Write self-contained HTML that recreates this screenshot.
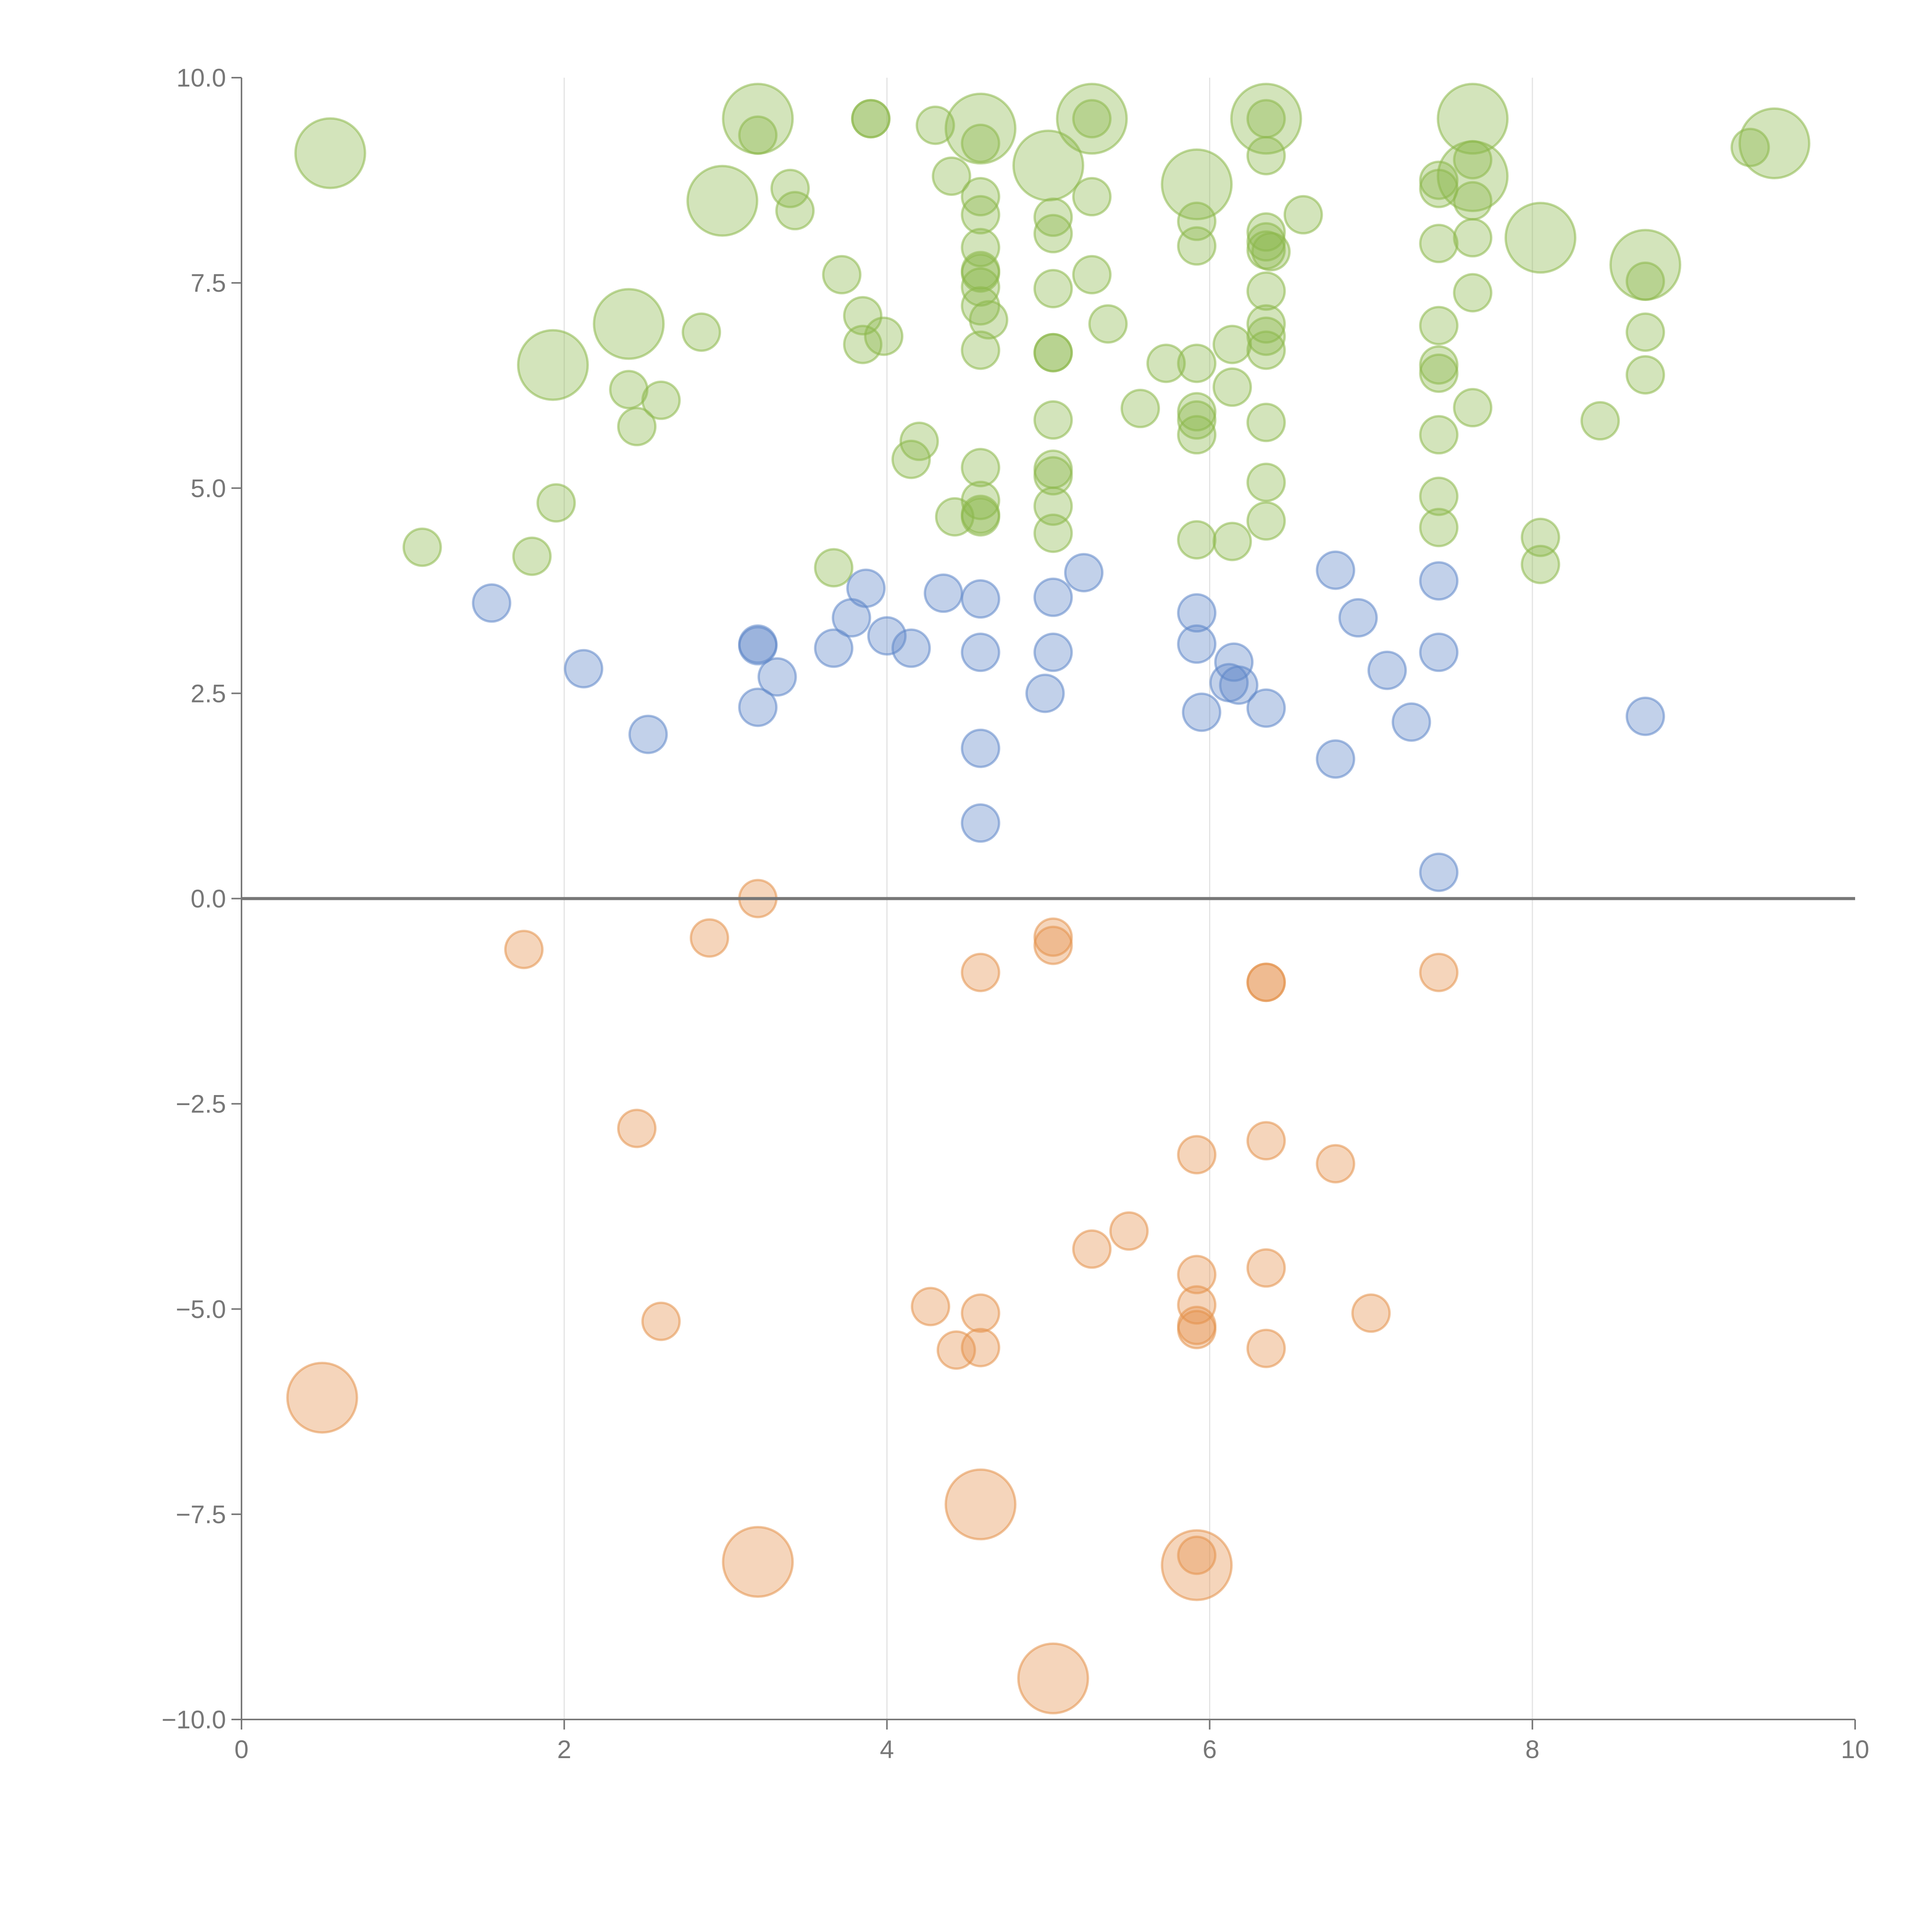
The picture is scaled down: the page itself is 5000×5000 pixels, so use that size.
<!DOCTYPE html>
<html><head><meta charset="utf-8"><style>
html,body{margin:0;padding:0;background:#fff;}
svg{display:block;font-family:"Liberation Sans",sans-serif;}
</style></head><body>
<svg id="chart" width="5000" height="5000" viewBox="0 0 5000 5000" xmlns="http://www.w3.org/2000/svg">
<g id="grid"></g>
<g id="marks"></g>
<g id="axes"></g>
</svg>
<script>
const xTicks=[0,2,4,6,8,10];
const yTicks=[-10,-7.5,-5,-2.5,0,2.5,5,7.5,10];
const yTickLabels=["\u221210.0","\u22127.5","\u22125.0","\u22122.5","0.0","2.5","5.0","7.5","10.0"];
const greenX=[0.55,1.12,1.8,1.95,1.93,2.4,2.4,2.45,2.6,2.85,2.98,3.2,3.2,3.4,3.43,3.72,3.67,3.85,3.85,3.9,3.9,3.98,4.15,4.2,4.3,4.4,4.42,4.58,4.58,4.58,4.58,4.58,4.58,4.58,4.58,4.58,4.63,4.58,4.58,4.58,4.58,4.58,5.0,5.03,5.03,5.03,5.03,5.03,5.03,5.03,5.03,5.03,5.03,5.27,5.27,5.27,5.27,5.37,5.57,5.73,5.92,5.92,5.92,5.92,5.92,5.92,5.92,5.92,6.14,6.14,6.14,6.35,6.35,6.35,6.35,6.35,6.35,6.38,6.35,6.35,6.35,6.35,6.35,6.35,6.35,6.58,7.42,7.42,7.42,7.42,7.42,7.42,7.42,7.42,7.42,7.63,7.63,7.63,7.63,7.63,7.63,7.63,8.05,8.05,8.05,8.42,8.7,8.7,8.7,8.7,9.35,9.5];
const greenY=[9.08,4.28,4.17,4.82,6.5,7.0,6.2,5.75,6.07,6.9,8.5,9.5,9.3,8.65,8.38,7.6,4.03,7.1,6.75,9.5,9.5,6.85,5.35,5.57,9.42,8.8,4.65,9.38,9.2,8.55,8.33,7.93,7.65,7.62,7.45,7.22,7.05,6.68,5.25,4.85,4.68,4.65,8.93,8.3,8.1,7.43,6.65,6.65,5.83,5.23,5.15,4.78,4.45,9.5,9.5,8.55,7.6,7.0,5.97,6.52,8.7,8.25,7.95,6.52,5.93,5.83,5.65,4.37,6.75,6.23,4.35,9.5,9.5,9.05,8.12,8.0,7.9,7.88,7.4,7.0,6.85,6.68,5.8,5.07,4.6,8.33,8.75,8.65,7.98,6.98,6.5,6.4,5.65,4.9,4.52,9.5,8.8,9.0,8.5,8.05,7.38,5.98,8.05,4.4,4.07,5.82,7.72,7.52,6.9,6.38,9.15,9.2];
const greenSize=[2,1,1,1,2,2,1,1,1,1,2,2,1,1,1,1,1,1,1,1,1,1,1,1,1,1,1,2,1,1,1,1,1,1,1,1,1,1,1,1,1,1,2,1,1,1,1,1,1,1,1,1,1,2,1,1,1,1,1,1,2,1,1,1,1,1,1,1,1,1,1,2,1,1,1,1,1,1,1,1,1,1,1,1,1,1,1,1,1,1,1,1,1,1,1,2,2,1,1,1,1,1,2,1,1,1,2,1,1,1,1,2];
const blueX=[1.55,2.12,2.52,3.2,3.2,3.2,3.32,3.67,3.78,3.87,4.0,4.15,4.35,4.58,4.58,4.58,4.58,4.98,5.03,5.03,5.22,5.92,5.92,5.95,6.15,6.12,6.18,6.35,6.78,6.78,6.92,7.1,7.25,7.42,7.42,7.42,8.7];
const blueY=[3.6,2.8,2.0,3.1,3.08,2.33,2.7,3.05,3.42,3.78,3.2,3.05,3.72,3.65,3.0,1.83,0.92,2.5,3.67,3.0,3.97,3.48,3.1,2.27,2.88,2.63,2.6,2.32,4.0,1.7,3.42,2.78,2.15,3.87,3.0,0.32,2.22];
const orangeX=[3.2,1.75,2.9,4.58,5.03,5.03,6.35,6.35,7.42,2.45,5.92,6.35,6.78,5.5,5.27,5.92,6.35,4.27,4.58,5.92,5.92,5.92,7.0,2.6,4.43,4.58,6.35,0.5,4.58,3.2,5.92,5.92,5.03];
const orangeY=[0.0,-0.62,-0.48,-0.9,-0.47,-0.57,-1.02,-1.02,-0.9,-2.8,-3.12,-2.95,-3.23,-4.05,-4.27,-4.58,-4.5,-4.97,-5.05,-4.95,-5.2,-5.25,-5.05,-5.15,-5.5,-5.47,-5.48,-6.08,-7.38,-8.08,-8.12,-8.0,-9.5];
const orangeSize=[1,1,1,1,1,1,1,1,1,1,1,1,1,1,1,1,1,1,1,1,1,1,1,1,1,1,1,2,2,2,2,1,2];

const NS="http://www.w3.org/2000/svg";
const L=625,R=4801,T=201,B=4450;
const sx=v=>L+(v-0)/(10-0)*(R-L);
const sy=v=>B-(v+10)/20*(B-T);
const mk=(tag,attrs,parent)=>{const e=document.createElementNS(NS,tag);for(const k in attrs)e.setAttribute(k,attrs[k]);parent.appendChild(e);return e;};
const grid=document.getElementById('grid'),marks=document.getElementById('marks'),axes=document.getElementById('axes');

xTicks.forEach(t=>{if(t>0&&t<10){const g=mk('line',{x1:sx(t),x2:sx(t),y1:T,y2:B,stroke:'#e3e3e3','stroke-width':3},grid);

}});

function drawSeries(xs,ys,sizes,fill,name){
  xs.forEach((x,i)=>{const r=sizes&&sizes[i]===2?90:48;
    const c=mk('circle',{cx:sx(x),cy:sy(ys[i]),r:r,fill:fill,'fill-opacity':0.38,stroke:fill,'stroke-opacity':0.55,'stroke-width':6},marks);
    
    });
}
drawSeries(greenX,greenY,greenSize,'rgb(140,184,75)','green-bubble');
drawSeries(blueX,blueY,null,'rgb(95,135,200)','blue-bubble');
drawSeries(orangeX,orangeY,orangeSize,'rgb(228,145,75)','orange-bubble');

const zl=mk('line',{x1:L,x2:R,y1:sy(0),y2:sy(0),stroke:'#777','stroke-width':8},axes);


const ya=mk('line',{x1:L,x2:L,y1:T,y2:B,stroke:'#777','stroke-width':4},axes);


const xa=mk('line',{x1:L,x2:R,y1:B,y2:B,stroke:'#777','stroke-width':4},axes);



xTicks.forEach(t=>{
  const tk=mk('line',{x1:sx(t),x2:sx(t),y1:B,y2:B+26,stroke:'#777','stroke-width':4},axes);
  
  
  const tx=mk('text',{x:sx(t),y:B+100,'text-anchor':'middle','font-size':66,fill:'#777'},axes);
  tx.textContent=String(t);
  
  
});
yTicks.forEach((t,i)=>{
  const tk=mk('line',{x1:L-26,x2:L,y1:sy(t),y2:sy(t),stroke:'#777','stroke-width':4},axes);
  
  
  const tx=mk('text',{x:L-40,y:sy(t)+23,'text-anchor':'end','font-size':66,fill:'#777'},axes);
  tx.textContent=yTickLabels[i];
  
  
});
</script>
</body></html>
